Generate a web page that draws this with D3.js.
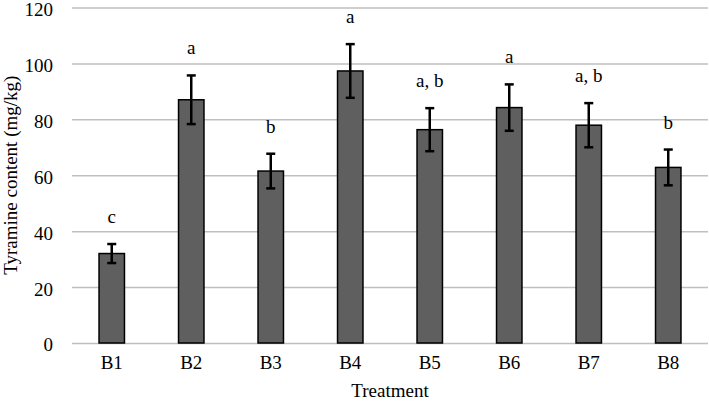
<!DOCTYPE html>
<html>

<head>
    <title>Tyramine content</title>
    <script src="https://d3js.org/d3.v7.min.js"></script>
    <style>
        body { margin: 0; background: #fff; }
        text { font-family: "Liberation Serif", "Times New Roman", serif; fill: #000; }
        .grid line { stroke: #bfbfbf; stroke-width: 1.5px; }
        .bar { fill: #5f5f5f; stroke: #000; stroke-width: 1.5px; }
        .err { stroke: #000; stroke-width: 2.5px; }
    </style>
</head>

<body>
    <div id="chart"></div>
    <script>
        // values
        const treatments = ["B1", "B2", "B3", "B4", "B5", "B6", "B7", "B8"];
        const tyramine = [32, 87, 61.5, 97.3, 76.3, 84.2, 77.9, 62.8];
        const errors = [3.4, 8.7, 6.2, 9.6, 7.7, 8.3, 7.9, 6.4];
        const letters = ["c", "a", "b", "a", "a, b", "a", "a, b", "b"];
        const yTicks = [0, 20, 40, 60, 80, 100, 120];

        const width = 709, height = 401;
        const margin = { top: 7.5, right: 1, bottom: 58, left: 72 };

        const svg = d3.select("#chart")
            .append("svg")
            .attr("width", width)
            .attr("height", height);

        const x = d3.scaleBand()
            .domain(treatments)
            .range([margin.left, width - margin.right])
            .paddingInner(0.68)
            .paddingOuter(0.34);

        const y = d3.scaleLinear()
            .domain([0, 120])
            .range([height - margin.bottom, margin.top]);

        // horizontal gridlines + y labels
        const yAxis = svg.append("g")
            .attr("class", "grid")
            .attr("transform", `translate(${margin.left},0)`)
            .call(d3.axisLeft(y)
                .tickValues(yTicks)
                .tickSize(-(width - margin.left - margin.right))
                .tickPadding(19)
                .tickFormat(d3.format("d")));
        yAxis.select(".domain").remove();
        yAxis.selectAll("text").style("font-size", "19px")
            .attr("dy", "0.42em");

        const rows = treatments.map((t, i) => ({ t, v: tyramine[i], e: errors[i], l: letters[i] }));

        svg.selectAll("rect.bar")
            .data(rows)
            .join("rect")
            .attr("class", "bar")
            .attr("x", d => x(d.t))
            .attr("width", x.bandwidth())
            .attr("y", d => y(d.v))
            .attr("height", d => y(0) - y(d.v));

        // error bars
        const eb = svg.append("g").selectAll("g")
            .data(rows)
            .join("g")
            .attr("class", "err");
        const cx = d => x(d.t) + x.bandwidth() / 2;
        eb.append("line")
            .attr("x1", cx).attr("x2", cx)
            .attr("y1", d => y(d.v + d.e)).attr("y2", d => y(d.v - d.e));
        eb.append("line")
            .attr("x1", d => cx(d) - 4.5).attr("x2", d => cx(d) + 4.5)
            .attr("y1", d => y(d.v + d.e)).attr("y2", d => y(d.v + d.e));
        eb.append("line")
            .attr("x1", d => cx(d) - 4.5).attr("x2", d => cx(d) + 4.5)
            .attr("y1", d => y(d.v - d.e)).attr("y2", d => y(d.v - d.e));

        // significance letters
        svg.selectAll("text.sig")
            .data(rows)
            .join("text")
            .attr("class", "sig")
            .attr("x", cx)
            .attr("y", d => y(d.v + d.e) - 21)
            .attr("text-anchor", "middle")
            .style("font-size", "19px")
            .text(d => d.l);

        // x axis labels
        const xAxis = svg.append("g")
            .attr("transform", `translate(0,${y(0)})`)
            .call(d3.axisBottom(x).tickSize(0).tickPadding(13));
        xAxis.select(".domain").remove();
        xAxis.selectAll("text").style("font-size", "19px");

        svg.append("text")
            .attr("x", (margin.left + width - margin.right) / 2)
            .attr("y", 397)
            .attr("text-anchor", "middle")
            .style("font-size", "19px")
            .text("Treatment");

        svg.append("text")
            .attr("transform", `translate(17,${(y(0) + y(120)) / 2}) rotate(-90)`)
            .attr("text-anchor", "middle")
            .style("font-size", "19px")
            .text("Tyramine content (mg/kg)");
    </script>

</body>

</html>
